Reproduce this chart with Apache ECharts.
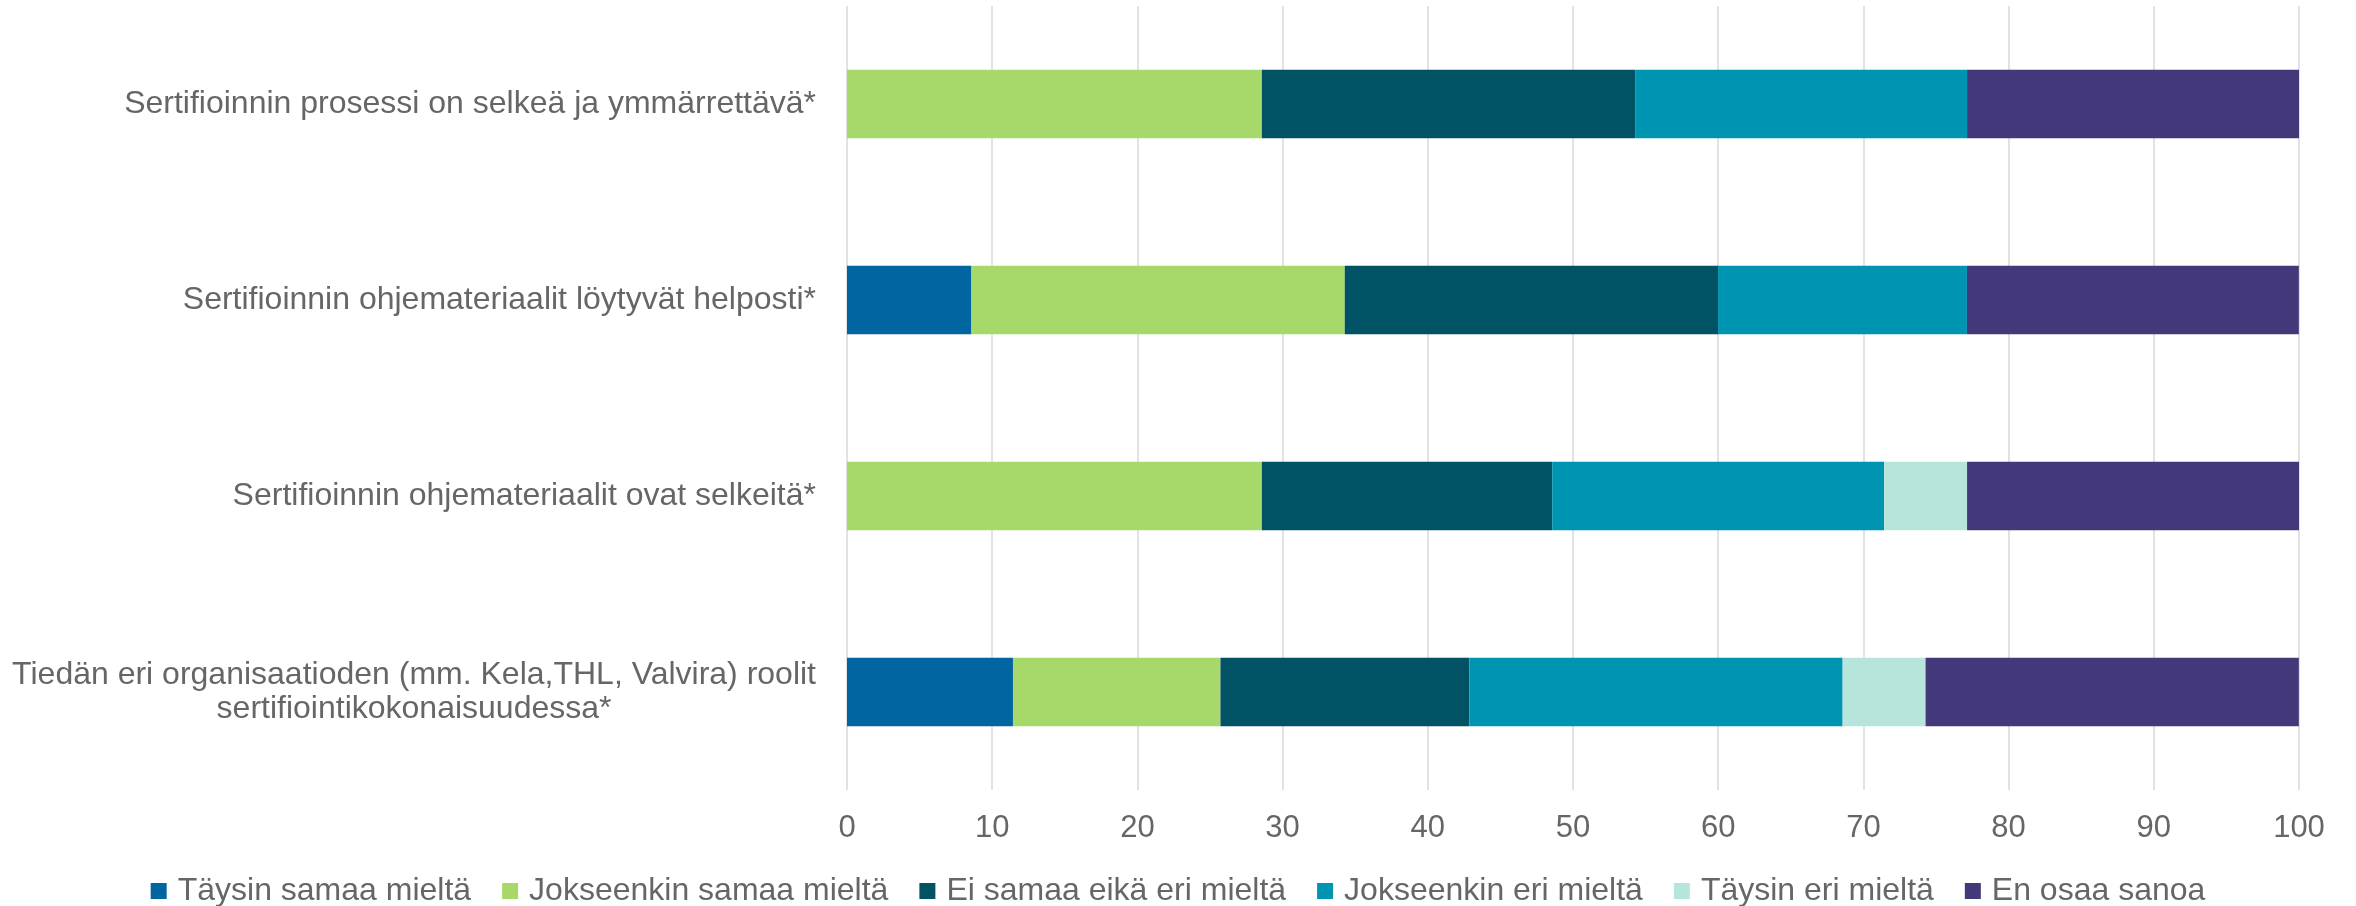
<!DOCTYPE html>
<html>
<head>
<meta charset="utf-8">
<script src="https://cdn.jsdelivr.net/npm/echarts@6/dist/echarts.min.js"></script>
<style>
html,body{margin:0;padding:0;background:#fff;}
#chart{width:2356px;height:906px;}
</style>
</head>
<body>
<div id="chart"></div>
<script>
const categories = [
  'Sertifioinnin prosessi on selkeä ja ymmärrettävä*',
  'Sertifioinnin ohjemateriaalit löytyvät helposti*',
  'Sertifioinnin ohjemateriaalit ovat selkeitä*',
  'Tiedän eri organisaatioden (mm. Kela,THL, Valvira) roolit\nsertifiointikokonaisuudessa*'
];
const seriesNames = ['Täysin samaa mieltä', 'Jokseenkin samaa mieltä', 'Ei samaa eikä eri mieltä', 'Jokseenkin eri mieltä', 'Täysin eri mieltä', 'En osaa sanoa'];
const taysinSamaa = [0, 8.57, 0, 11.43];
const jokseenkinSamaa = [28.57, 25.71, 28.57, 14.29];
const eiSamaaEikaEri = [25.71, 25.71, 20.0, 17.14];
const jokseenkinEri = [22.86, 17.14, 22.86, 25.71];
const taysinEri = [0, 0, 5.71, 5.71];
const enOsaaSanoa = [22.86, 22.86, 22.86, 25.71];
const xTicks = [0, 10, 20, 30, 40, 50, 60, 70, 80, 90, 100];
const colors = ['#0065A0', '#A6D96A', '#005264', '#0094B3', '#B7E5DB', '#43387A'];

const values = [taysinSamaa, jokseenkinSamaa, eiSamaaEikaEri, jokseenkinEri, taysinEri, enOsaaSanoa];
const font = '"Liberation Sans", Arial, sans-serif';
const textColor = '#666666';

const chart = echarts.init(document.getElementById('chart'), null, {renderer: 'canvas'});
chart.setOption({
  animation: false,
  backgroundColor: '#ffffff',
  color: colors,
  textStyle: {fontFamily: font},
  grid: {left: 847, right: 57, top: 6, bottom: 116, containLabel: false},
  xAxis: {
    type: 'value',
    min: xTicks[0],
    max: xTicks[xTicks.length - 1],
    interval: 10,
    axisLine: {show: false},
    axisTick: {show: false},
    splitLine: {show: true, lineStyle: {color: '#D9D9D9', width: 1.5}},
    axisLabel: {fontSize: 31, color: textColor, margin: 23, fontFamily: font}
  },
  yAxis: {
    type: 'category',
    data: categories,
    inverse: true,
    axisLine: {show: false},
    axisTick: {show: false},
    splitLine: {show: false},
    axisLabel: {
      margin: 31,
      align: 'right',
      fontSize: 32,
      color: textColor,
      fontFamily: font,
      formatter: function (v) {
        return v.split('\n').map(function (s) { return '{c|' + s + '}'; }).join('\n');
      },
      rich: {
        c: {align: 'center', fontSize: 32, color: textColor, fontFamily: font, lineHeight: 34}
      }
    }
  },
  legend: {
    data: seriesNames,
    left: 'center',
    top: 870,
    itemWidth: 16,
    itemHeight: 16,
    itemGap: 31,
    icon: 'rect',
    textStyle: {fontSize: 32, color: textColor, fontFamily: font, padding: [0, 0, 0, 6]}
  },
  series: seriesNames.map(function (name, i) {
    return {
      name: name,
      type: 'bar',
      stack: 'total',
      barCategoryGap: '65%',
      data: values[i],
      itemStyle: {color: colors[i]}
    };
  })
});
</script>
</body>
</html>
